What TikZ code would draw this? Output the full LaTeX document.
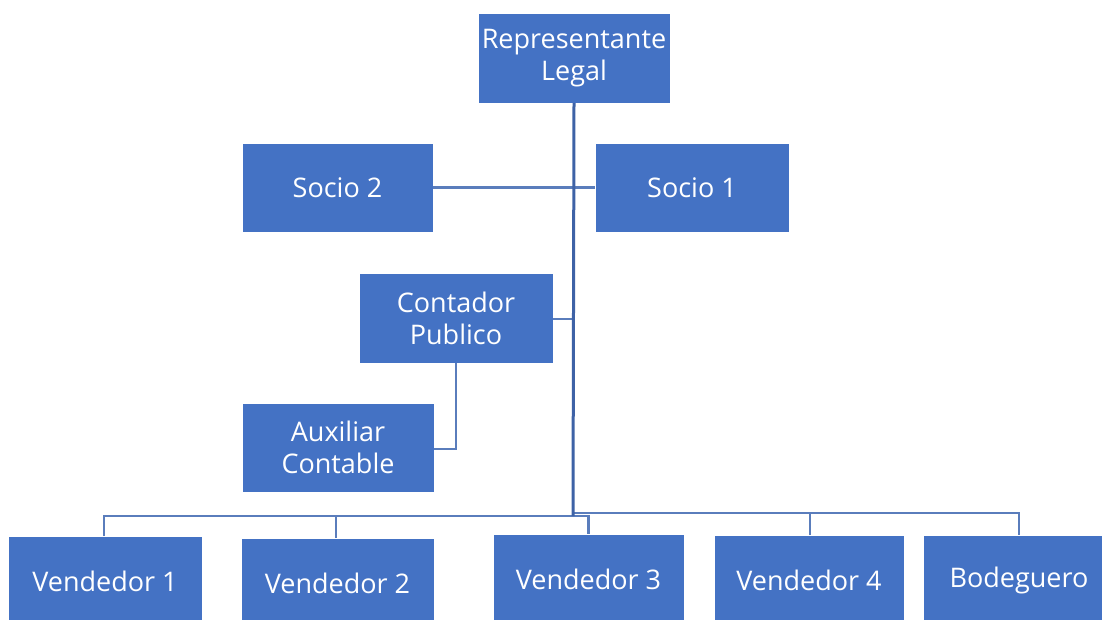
\documentclass[tikz,border=0pt]{standalone}
\usepackage{fontspec}
\setmainfont{Open Sans}
\definecolor{boxblue}{HTML}{4472C4}
\definecolor{linedark}{HTML}{3E62A6}
\definecolor{linelight}{HTML}{5A7DBC}
\tikzset{
  orgbox/.style={rectangle, fill=boxblue, draw=white, line width=0.6pt, text=white,
    minimum width=192pt, minimum height=90pt, inner sep=0pt, outer sep=0pt,
    align=center, font=\fontsize{27}{32}\selectfont},
  trunk/.style={draw=linedark, line width=3pt},
  branch/.style={draw=linelight, line width=2.2pt},
}
\begin{document}
\begin{tikzpicture}[x=1pt,y=-1pt]
\useasboundingbox (0,0) rectangle (1102,620);
\begin{scope}
\clip (0,0) rectangle (1102,620);
\node[orgbox] (rep) at (574,58) {Representante\\Legal};
\node[orgbox, minimum width=191pt, minimum height=89pt] (socio2) at (337.5,187.5) {Socio 2};
\node[orgbox, minimum width=194pt, minimum height=89pt] (socio1) at (692,187.5) {Socio 1};
\node[orgbox, minimum width=194pt] (cont) at (456,318) {Contador\\Publico};
\node[orgbox, minimum height=89pt] (aux) at (338,447.5) {Auxiliar\\Contable};
\node[orgbox, minimum width=194pt] (v1) at (105,581) {Vendedor 1};
\node[orgbox, minimum width=193pt] (v2) at (337.5,583) {Vendedor 2};
\node[orgbox, minimum width=191pt] (v3) at (588.5,579) {Vendedor 3};
\node[orgbox, minimum width=190pt] (v4) at (809,580) {Vendedor 4};
\node[orgbox] (bod) at (1019,580) {Bodeguero};
\end{scope}
% junction coordinates
\coordinate (jleft) at (573,516);
\coordinate (jright) at (573,513);
\coordinate (jaux) at (456,449);
% connectors
\draw[branch] (socio2.east) -- (socio1.west);
\draw[branch] (cont.east |- 0,319) -- (573,319);
\draw[branch] (cont.south) -- (jaux) -- (aux.east |- jaux);
\draw[branch] (v1.north -| 104,0) |- (v3.north |- jleft) -- (v3.north);
\draw[branch] (v2.north -| 336,0) -- (336,516);
\draw[branch] (jright) -| (bod.north);
\draw[branch] (v4.north -| 810,0) -- (810,513);
\draw[trunk] (rep.south) -- (jleft);
\end{tikzpicture}
\end{document}
